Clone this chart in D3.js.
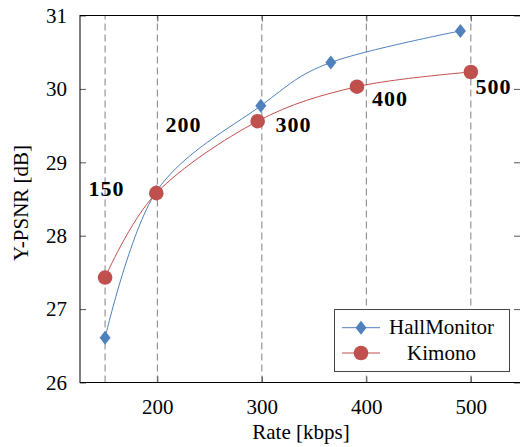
<!DOCTYPE html>
<html>
<head>
<meta charset="utf-8">
<script src="https://cdn.jsdelivr.net/npm/d3@7"></script>
<style>
  html, body { margin: 0; padding: 0; background: #fff; }
  svg { display: block; }
</style>
</head>
<body>
<div id="chart"></div>
<script>
// ---------- data ----------
const hallRates = [150, 199, 299, 366, 490];
const hallPSNR  = [26.61, 28.60, 29.77, 30.36, 30.79];
const kimRates  = [150, 199, 296, 391, 500];
const kimPSNR   = [27.43, 28.58, 29.56, 30.03, 30.23];
const seriesNames = ["HallMonitor", "Kimono"];
const xTicks = [200, 300, 400, 500];
const yTicks = [26, 27, 28, 29, 30, 31];
const targetRates = [150, 200, 300, 400, 500];       // dashed guide lines
const labelTexts  = ["150", "200", "300", "400", "500"];
const labelX      = [151.4, 225, 330.3, 422.7, 521.7]; // annotation centres (kbps)
const labelY      = [28.54, 29.41, 29.41, 29.77, 29.93]; // annotation baselines (dB)

// ---------- layout ----------
const W = 520, H = 447;
const mL = 80, mR = 521, mT = 15.5, mB = 382.5;
const blue = "#4f81bd", red = "#c0504d";
const FONT = "Liberation Serif";

const svg = d3.select("#chart").append("svg").attr("width", W).attr("height", H)
  .attr("font-family", FONT);

const x = d3.scaleLinear().domain([126, 548]).range([mL, mR]);
const y = d3.scaleLinear().domain([26, 31]).range([mB, mT]);

// dashed guide lines
svg.append("g").selectAll("line").data(targetRates).join("line")
  .attr("x1", d => x(d)).attr("x2", d => x(d))
  .attr("y1", mB).attr("y2", mT)
  .attr("stroke", "#808080").attr("stroke-width", 1)
  .attr("stroke-dasharray", "7,4");

// axes (ticks inward)
const fontSize = 21;
const axB = svg.append("g").attr("transform", `translate(0,${mB})`)
  .call(d3.axisBottom(x).tickValues(xTicks).tickSize(-6).tickPadding(17).tickFormat(d3.format("d")));
const axT = svg.append("g").attr("transform", `translate(0,${mT})`)
  .call(d3.axisTop(x).tickValues(xTicks).tickSize(-6).tickFormat(""));
const axL = svg.append("g").attr("transform", `translate(${mL},0)`)
  .call(d3.axisLeft(y).tickValues(yTicks).tickSize(-6).tickPadding(13).tickFormat(d3.format("d")));
const axR = svg.append("g").attr("transform", `translate(${mR},0)`)
  .call(d3.axisRight(y).tickValues(yTicks).tickSize(-7).tickFormat(""));
[axB, axT, axL, axR].forEach(a => {
  a.attr("font-family", FONT).attr("font-size", fontSize);
  a.select(".domain").remove();
  a.selectAll(".tick line").attr("stroke", "#555").attr("stroke-width", 1);
  a.selectAll("text").attr("font-family", FONT).attr("font-size", fontSize).attr("fill", "#000");
});
// frame
svg.append("rect").attr("x", mL).attr("y", mT)
  .attr("width", mR - mL).attr("height", mB - mT)
  .attr("fill", "none").attr("stroke", "#000").attr("stroke-width", 1);

// series
const curve = d3.curveCardinal.tension(0);
function series(rates, vals, color) {
  const pts = rates.map((r, i) => [r, vals[i]]);
  svg.append("path").datum(pts)
    .attr("d", d3.line().x(d => x(d[0])).y(d => y(d[1])).curve(curve))
    .attr("fill", "none").attr("stroke", color).attr("stroke-width", 1);
  return pts;
}
const diamond = (cx, cy) => `M${cx},${cy - 7}L${cx + 5.5},${cy}L${cx},${cy + 7}L${cx - 5.5},${cy}Z`;

const hallPts = series(hallRates, hallPSNR, blue);
const kimPts = series(kimRates, kimPSNR, red);
svg.append("g").selectAll("path").data(hallPts).join("path")
  .attr("d", d => diamond(x(d[0]), y(d[1]))).attr("fill", blue);
svg.append("g").selectAll("circle").data(kimPts).join("circle")
  .attr("cx", d => x(d[0])).attr("cy", d => y(d[1])).attr("r", 7.3).attr("fill", red);

// annotations
svg.append("g").selectAll("text").data(labelTexts).join("text")
  .attr("x", (d, i) => x(labelX[i])).attr("y", (d, i) => y(labelY[i]))
  .attr("text-anchor", "middle")
  .attr("font-family", FONT).attr("font-weight", "bold")
  .attr("font-size", 22).attr("letter-spacing", 1)
  .text(d => d);

// axis labels
svg.append("text").attr("x", 301).attr("y", 439).attr("text-anchor", "middle")
  .attr("font-family", FONT).attr("font-size", fontSize).text("Rate [kbps]");
svg.append("text").attr("transform", "translate(28,203) rotate(-90)")
  .attr("text-anchor", "middle")
  .attr("font-family", FONT).attr("font-size", fontSize).text("Y-PSNR [dB]");

// legend
const lg = svg.append("g");
lg.append("rect").attr("x", 334.5).attr("y", 309.5).attr("width", 175).attr("height", 62)
  .attr("fill", "#fff").attr("stroke", "#444").attr("stroke-width", 1);
const legY = [327.7, 353];
lg.append("line").attr("x1", 342).attr("x2", 380).attr("y1", legY[0]).attr("y2", legY[0])
  .attr("stroke", blue).attr("stroke-width", 1);
lg.append("path").attr("d", diamond(361, legY[0])).attr("fill", blue);
lg.append("line").attr("x1", 342).attr("x2", 380).attr("y1", legY[1]).attr("y2", legY[1])
  .attr("stroke", red).attr("stroke-width", 1);
lg.append("circle").attr("cx", 361).attr("cy", legY[1]).attr("r", 7.3).attr("fill", red);
lg.selectAll("text.l").data(seriesNames).join("text").attr("class", "l")
  .attr("x", 441.5).attr("y", (d, i) => legY[i] + 6.5).attr("text-anchor", "middle")
  .attr("font-family", FONT).attr("font-size", fontSize).text(d => d);
</script>
</body>
</html>
